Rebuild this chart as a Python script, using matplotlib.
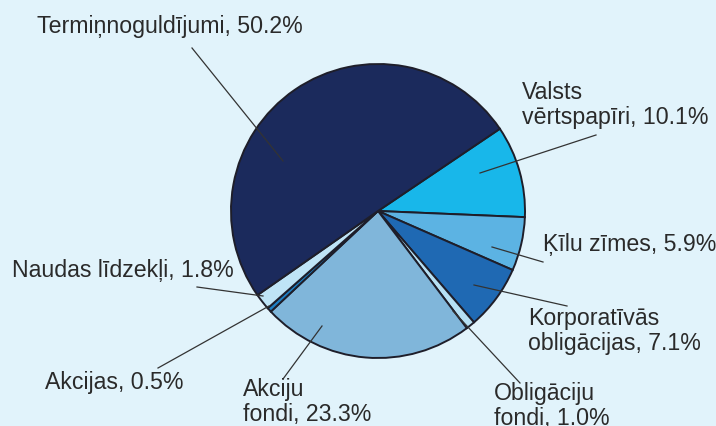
import matplotlib
matplotlib.use("Agg")
import matplotlib.pyplot as plt

labels = ["Valsts\nvērtspapīri, 10.1%", "Ķīlu zīmes, 5.9%", "Korporatīvās\nobligācijas, 7.1%",
          "Obligāciju\nfondi, 1.0%", "Akciju\nfondi, 23.3%", "Akcijas, 0.5%",
          "Naudas līdzekļi, 1.8%", "Termiņnoguldījumi, 50.2%"]
values = [10.1, 5.9, 7.1, 1.0, 23.3, 0.5, 1.8, 50.2]
colors = ["#18b7ea", "#5cb3e3", "#1f69b3", "#b6e0f4", "#80b6da", "#1d7fc3", "#bfe4f6", "#1b2a5c"]

W, H = 716, 427
bg = "#e1f3fb"
fig = plt.figure(figsize=(W / 100, H / 100), dpi=100, facecolor=bg)
ax = fig.add_axes([0, 0, 1, 1])
ax.set_facecolor(bg)

def P(x, y):
    return x, H - y

ax.pie(values, colors=colors, startangle=34, counterclock=False,
       center=P(378, 212), radius=147, frame=True,
       wedgeprops=dict(edgecolor="#1e1e2a", linewidth=1.4))
ax.set_xlim(0, W)
ax.set_ylim(0, H)
ax.set_aspect("equal")
ax.axis("off")

text_pos = [(522, 105), (543, 245), (528, 331), (494, 406), (243, 402), (45, 383), (12, 270), (37, 27)]
leaders = [((480, 174), (596, 136)), ((492, 248), (543, 263)), ((474, 286), (567, 307)),
           ((453, 312), (520, 384)), ((322, 327), (283, 380)), ((269, 307), (158, 369)),
           ((197, 288), (263, 297)), ((192, 49), (283, 162))]

for lab, (tx, ty), (a, b) in zip(labels, text_pos, leaders):
    ax.text(*P(tx, ty), lab, ha="left", va="center", fontsize=16.7,
            family=["Liberation Sans", "DejaVu Sans"], color="#2a2a2a", linespacing=1.1)
    xa, ya = P(*a)
    xb, yb = P(*b)
    ax.plot([xa, xb], [ya, yb], color="#333333", lw=0.9)

fig.savefig("out.png", dpi=100, facecolor=bg)
